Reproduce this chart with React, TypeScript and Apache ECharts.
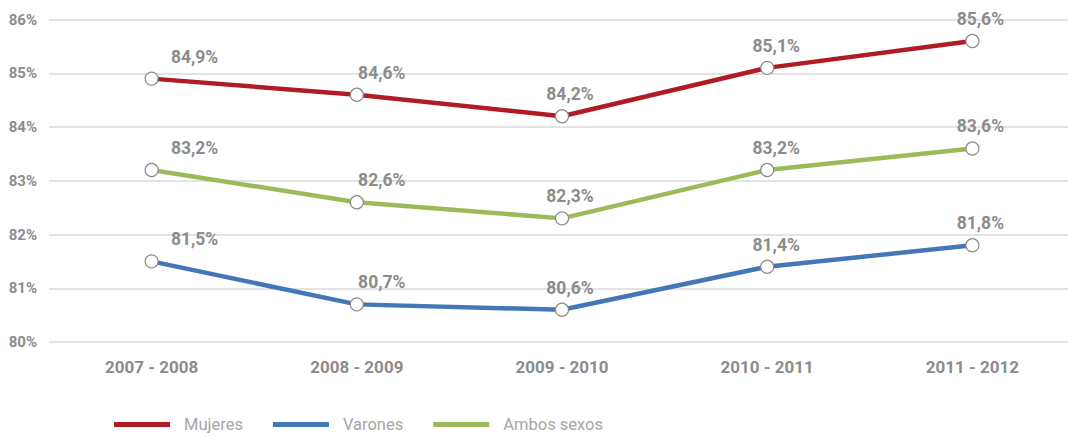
import React, { useEffect, useRef } from "react";
import * as echarts from "echarts";

const categories = ["2007 - 2008", "2008 - 2009", "2009 - 2010", "2010 - 2011", "2011 - 2012"];
const mujeres = [84.9, 84.6, 84.2, 85.1, 85.6];
const varones = [81.5, 80.7, 80.6, 81.4, 81.8];
const ambos = [83.2, 82.6, 82.3, 83.2, 83.6];
const seriesNames = ["Mujeres", "Varones", "Ambos sexos"];
const yTicks = [80, 81, 82, 83, 84, 85, 86];

const FONT = "Roboto, 'Liberation Sans', sans-serif";
const labelOffsetX = [43, 25, 8, 9, 8];

function fmt(v: number) {
  return v.toFixed(1).replace(".", ",") + "%";
}

export default function App() {
  const ref = useRef<HTMLDivElement>(null);
  useEffect(() => {
    document.body.style.margin = "0";
    document.body.style.overflow = "hidden";
    const chart = echarts.init(ref.current!, null, { renderer: "svg" });
    const colors = ["#b01c24", "#4477b8", "#9bbb59"];
    const mk = (name: string, vals: number[], color: string) => ({
      name,
      type: "line",
      data: vals.map((v, i) => ({ value: v, label: { offset: [labelOffsetX[i], 0] } })),
      lineStyle: { color, width: 4.5 },
      itemStyle: { color: "#ffffff", borderColor: "#8a8a8a", borderWidth: 1.2 },
      symbol: "circle",
      symbolSize: 13,
      showAllSymbol: true,
      label: {
        show: true,
        position: "top",
        distance: 6,
        formatter: (p: any) => fmt(p.value),
        color: "#8c8c8c",
        fontFamily: FONT,
        fontWeight: "bold",
        fontSize: 17.5,
      },
      emphasis: { disabled: true },
      z: 3,
    });
    chart.setOption({
      animation: false,
      grid: { left: 49, right: 0, top: 19.5, bottom: 96, containLabel: false },
      legend: {
        data: seriesNames.map((n, i) => ({
          name: n,
          icon: "rect",
          itemStyle: { color: colors[i], borderWidth: 0 },
        })),
        left: 114,
        top: 416,
        padding: 0,
        itemWidth: 56,
        itemHeight: 5,
        itemGap: 30,
        textStyle: {
          color: "#a6a6a6",
          fontFamily: FONT,
          fontSize: 16.5,
          padding: [0, 0, 0, 9],
        },
        selectedMode: false,
      },
      xAxis: {
        type: "category",
        data: categories,
        boundaryGap: true,
        axisLine: { show: false },
        axisTick: { show: false },
        axisLabel: {
          color: "#8c8c8c",
          fontFamily: FONT,
          fontWeight: "bold",
          fontSize: 17,
          margin: 16,
        },
      },
      yAxis: {
        type: "value",
        min: yTicks[0],
        max: yTicks[yTicks.length - 1],
        interval: 1,
        axisLine: { show: false },
        axisTick: { show: false },
        axisLabel: {
          color: "#8c8c8c",
          fontFamily: FONT,
          fontWeight: "bold",
          fontSize: 15,
          margin: 12,
          formatter: (v: number) => v + "%",
        },
        splitLine: { lineStyle: { color: "#e3e3e3", width: 2 } },
      },
      series: [
        mk(seriesNames[0], mujeres, colors[0]),
        mk(seriesNames[1], varones, colors[1]),
        mk(seriesNames[2], ambos, colors[2]),
      ],
    });
    return () => chart.dispose();
  }, []);
  return <div ref={ref} style={{ width: 1075, height: 438 }} />;
}
